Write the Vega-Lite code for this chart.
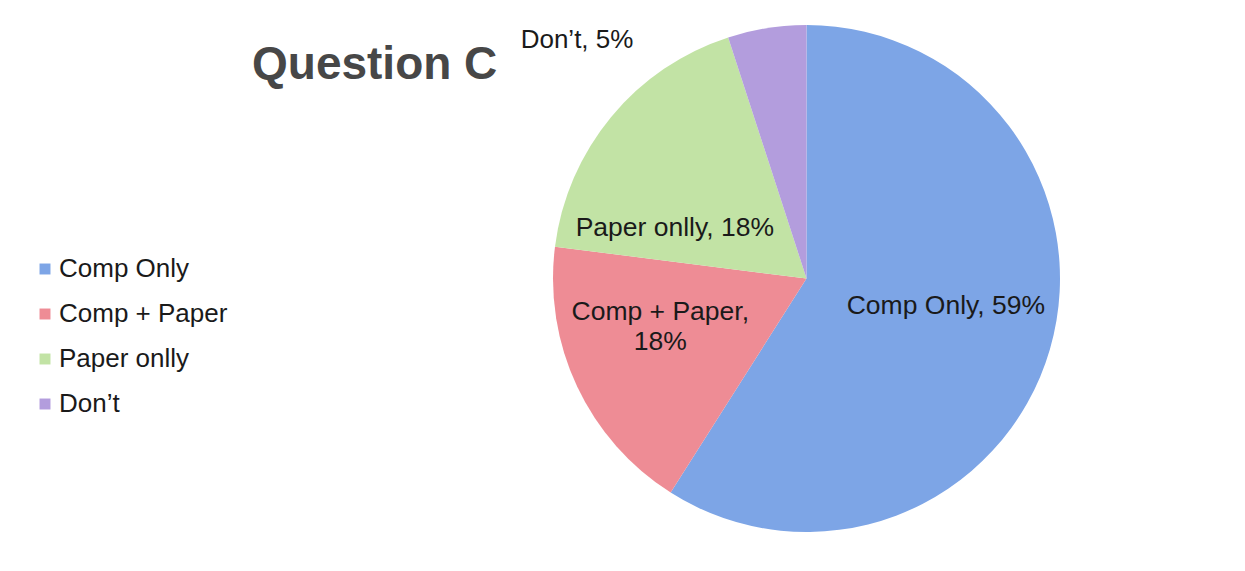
{
  "$schema": "https://vega.github.io/schema/vega-lite/v6.json",
  "autosize": "none",
  "width": 507,
  "height": 507,
  "padding": {"left": 553, "top": 25, "right": 185, "bottom": 39},
  "background": "white",
  "config": {"view": {"stroke": null}, "font": "Liberation Sans"},
  "title": {
    "text": "Question C",
    "anchor": "start",
    "frame": "group",
    "orient": "top",
    "font": "Liberation Sans",
    "fontSize": 46,
    "fontWeight": "bold",
    "color": "#474747",
    "dx": -301,
    "dy": 104,
    "baseline": "alphabetic"
  },
  "data": {
    "values": [
      {"category": "Comp Only", "value": 59, "rank": 1, "label": "Comp Only, 59%"},
      {"category": "Comp + Paper", "value": 18, "rank": 2, "label": "Comp + Paper,\n18%"},
      {"category": "Paper onlly", "value": 18, "rank": 3, "label": "Paper onlly, 18%"},
      {"category": "Don’t", "value": 5, "rank": 4, "label": "Don’t, 5%"}
    ]
  },
  "encoding": {
    "theta": {"field": "value", "type": "quantitative", "stack": true},
    "order": {"field": "rank", "type": "quantitative"}
  },
  "layer": [
    {
      "mark": {"type": "arc", "radius": 253.5},
      "encoding": {
        "color": {
          "field": "category",
          "type": "nominal",
          "scale": {
            "domain": ["Comp Only", "Comp + Paper", "Paper onlly", "Don’t"],
            "range": ["#7DA5E6", "#EE8C95", "#C2E3A5", "#B39DDD"]
          },
          "legend": {
            "title": null,
            "orient": "none",
            "legendX": -521,
            "legendY": 231,
            "symbolType": "square",
            "symbolSize": 120,
            "symbolStrokeWidth": 0,
            "labelFont": "Liberation Sans",
            "labelFontSize": 26,
            "labelColor": "#1a1a1a",
            "labelOffset": 1,
            "rowPadding": 19,
            "padding": 0,
            "labelLimit": 400
          }
        }
      }
    },
    {
      "mark": {"type": "text", "radius": 142, "thetaOffset": -0.091, "fontSize": 26.5, "color": "#1a1a1a", "font": "Liberation Sans"},
      "encoding": {"text": {"condition": {"test": "datum.category === 'Comp Only'", "field": "label"}, "value": ""}}
    },
    {
      "mark": {"type": "text", "radius": 150, "thetaOffset": 0.215, "fontSize": 26.5, "color": "#1a1a1a", "font": "Liberation Sans", "lineBreak": "\n", "lineHeight": 30},
      "encoding": {"text": {"condition": {"test": "datum.category === 'Comp + Paper'", "field": "label"}, "value": ""}}
    },
    {
      "mark": {"type": "text", "radius": 141, "thetaOffset": -0.325, "fontSize": 26.5, "color": "#1a1a1a", "font": "Liberation Sans"},
      "encoding": {"text": {"condition": {"test": "datum.category === 'Paper onlly'", "field": "label"}, "value": ""}}
    },
    {
      "mark": {"type": "text", "radius": 331, "thetaOffset": -0.609, "fontSize": 26, "color": "#1a1a1a", "font": "Liberation Sans"},
      "encoding": {"text": {"condition": {"test": "datum.category === 'Don’t'", "field": "label"}, "value": ""}}
    }
  ]
}
